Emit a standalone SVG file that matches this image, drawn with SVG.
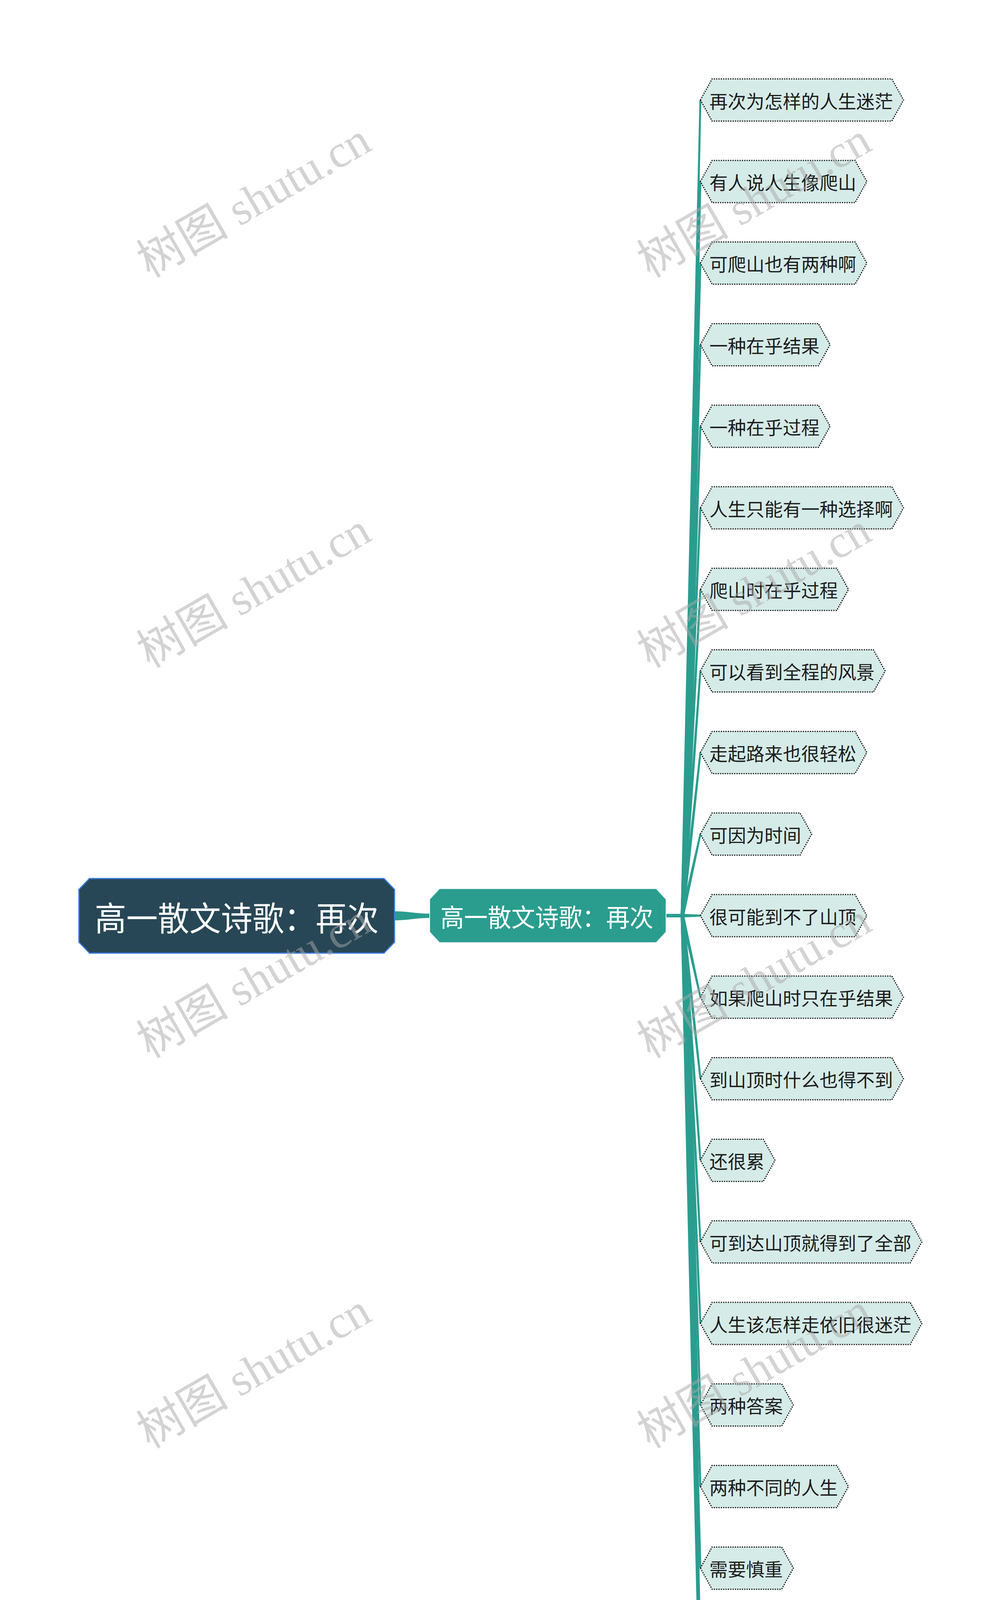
<svg xmlns="http://www.w3.org/2000/svg" width="2560" height="4689" viewBox="0 0 2560 4689">
<style>
.leaf polygon{fill:#d5ebe8;stroke:#111;stroke-width:3;stroke-dasharray:3 3}
.leaf text{font-family:"Noto Sans CJK SC","Noto Sans",sans-serif;font-size:47px;fill:#1c1c1c;dominant-baseline:central}
.big{font-family:"Noto Sans CJK SC","Noto Sans",sans-serif;fill:#ffffff;text-anchor:middle;dominant-baseline:central}
.conn polygon,.conn path{fill:#2a9d8f}
.wm text{font-family:"Liberation Serif","Noto Sans CJK SC",serif;font-size:118px;fill:#a8a8a8;opacity:0.5;text-anchor:middle;dominant-baseline:central}
</style>
<rect width="2560" height="4689" fill="#ffffff"/>
<g id="connectors" class="conn">
<path d="M1008,2333 C1050,2333 1060,2339 1101,2339 L1101,2350 C1060,2350 1050,2356 1008,2356 Z"/>
<polygon points="1742.5,2344 1751.5,2344 1795.5,256 1790.5,256"/>
<polygon points="1742.5,2344 1751.5,2344 1795.5,464.8 1790.5,464.8"/>
<polygon points="1742.5,2344 1751.5,2344 1795.5,673.6 1790.5,673.6"/>
<polygon points="1742.5,2344 1751.5,2344 1795.5,882.4 1790.5,882.4"/>
<polygon points="1742.5,2344 1751.5,2344 1795.5,1091.2 1790.5,1091.2"/>
<polygon points="1742.5,2344 1751.5,2344 1795.5,1300 1790.5,1300"/>
<polygon points="1742.5,2344 1751.5,2344 1795.5,1508.8 1790.5,1508.8"/>
<polygon points="1742.5,2344 1751.5,2344 1795.5,1717.6 1790.5,1717.6"/>
<polygon points="1742.5,2344 1751.5,2344 1795.5,1926.4 1790.5,1926.4"/>
<polygon points="1742.6,2343 1751.4,2345 1795.4,2135.7 1790.6,2134.7"/>
<polygon points="1703,2339.5 1747,2339.5 1795,2341.5 1795,2346.5 1747,2348.5 1703,2348.5"/>
<polygon points="1742.6,2345 1751.4,2343 1795.4,2552.3 1790.6,2553.3"/>
<polygon points="1742.5,2344 1751.5,2344 1795.5,2761.6 1790.5,2761.6"/>
<polygon points="1742.5,2344 1751.5,2344 1795.5,2970.4 1790.5,2970.4"/>
<polygon points="1742.5,2344 1751.5,2344 1795.5,3179.2 1790.5,3179.2"/>
<polygon points="1742.5,2344 1751.5,2344 1795.5,3388 1790.5,3388"/>
<polygon points="1742.5,2344 1751.5,2344 1795.5,3596.8 1790.5,3596.8"/>
<polygon points="1742.5,2344 1751.5,2344 1795.5,3805.6 1790.5,3805.6"/>
<polygon points="1742.5,2344 1751.5,2344 1795.5,4014.4 1790.5,4014.4"/>
<polygon points="1742.5,2344 1751.5,2344 1795.5,4223.2 1790.5,4223.2"/>
<polygon points="1742.5,2344 1751.5,2344 1795.5,4432 1790.5,4432"/>
</g>
<g id="root">
<polygon points="229,2249 983,2249 1010,2277 1010,2412 983,2440 229,2440 202,2412 202,2277" fill="#274756" stroke="#3a7fdc" stroke-width="3"/>
<text class="big" x="606" y="2345" font-size="86" textLength="727" lengthAdjust="spacingAndGlyphs">高一散文诗歌：再次</text>
</g>
<g id="main">
<polygon points="1125,2275 1680,2275 1705,2302 1705,2386 1680,2413 1125,2413 1100,2386 1100,2302" fill="#2a9d8f" stroke="#e6f2f1" stroke-width="2"/>
<text class="big" x="1400" y="2344" font-size="64" textLength="545" lengthAdjust="spacingAndGlyphs">高一散文诗歌：再次</text>
</g>
<g id="leaf1" class="leaf" transform="translate(0,256)"><polygon points="1793,0 1823,-54 2283,-54 2313,0 2283,54 1823,54"/><text x="1816" y="0">再次为怎样的人生迷茫</text></g>
<g id="leaf2" class="leaf" transform="translate(0,464.8)"><polygon points="1793,0 1823,-54 2189,-54 2219,0 2189,54 1823,54"/><text x="1816" y="0">有人说人生像爬山</text></g>
<g id="leaf3" class="leaf" transform="translate(0,673.6)"><polygon points="1793,0 1823,-54 2189,-54 2219,0 2189,54 1823,54"/><text x="1816" y="0">可爬山也有两种啊</text></g>
<g id="leaf4" class="leaf" transform="translate(0,882.4)"><polygon points="1793,0 1823,-54 2095,-54 2125,0 2095,54 1823,54"/><text x="1816" y="0">一种在乎结果</text></g>
<g id="leaf5" class="leaf" transform="translate(0,1091.2)"><polygon points="1793,0 1823,-54 2095,-54 2125,0 2095,54 1823,54"/><text x="1816" y="0">一种在乎过程</text></g>
<g id="leaf6" class="leaf" transform="translate(0,1300)"><polygon points="1793,0 1823,-54 2283,-54 2313,0 2283,54 1823,54"/><text x="1816" y="0">人生只能有一种选择啊</text></g>
<g id="leaf7" class="leaf" transform="translate(0,1508.8)"><polygon points="1793,0 1823,-54 2142,-54 2172,0 2142,54 1823,54"/><text x="1816" y="0">爬山时在乎过程</text></g>
<g id="leaf8" class="leaf" transform="translate(0,1717.6)"><polygon points="1793,0 1823,-54 2236,-54 2266,0 2236,54 1823,54"/><text x="1816" y="0">可以看到全程的风景</text></g>
<g id="leaf9" class="leaf" transform="translate(0,1926.4)"><polygon points="1793,0 1823,-54 2189,-54 2219,0 2189,54 1823,54"/><text x="1816" y="0">走起路来也很轻松</text></g>
<g id="leaf10" class="leaf" transform="translate(0,2135.2)"><polygon points="1793,0 1823,-54 2048,-54 2078,0 2048,54 1823,54"/><text x="1816" y="0">可因为时间</text></g>
<g id="leaf11" class="leaf" transform="translate(0,2344)"><polygon points="1793,0 1823,-54 2189,-54 2219,0 2189,54 1823,54"/><text x="1816" y="0">很可能到不了山顶</text></g>
<g id="leaf12" class="leaf" transform="translate(0,2552.8)"><polygon points="1793,0 1823,-54 2283,-54 2313,0 2283,54 1823,54"/><text x="1816" y="0">如果爬山时只在乎结果</text></g>
<g id="leaf13" class="leaf" transform="translate(0,2761.6)"><polygon points="1793,0 1823,-54 2283,-54 2313,0 2283,54 1823,54"/><text x="1816" y="0">到山顶时什么也得不到</text></g>
<g id="leaf14" class="leaf" transform="translate(0,2970.4)"><polygon points="1793,0 1823,-54 1954,-54 1984,0 1954,54 1823,54"/><text x="1816" y="0">还很累</text></g>
<g id="leaf15" class="leaf" transform="translate(0,3179.2)"><polygon points="1793,0 1823,-54 2330,-54 2360,0 2330,54 1823,54"/><text x="1816" y="0">可到达山顶就得到了全部</text></g>
<g id="leaf16" class="leaf" transform="translate(0,3388)"><polygon points="1793,0 1823,-54 2330,-54 2360,0 2330,54 1823,54"/><text x="1816" y="0">人生该怎样走依旧很迷茫</text></g>
<g id="leaf17" class="leaf" transform="translate(0,3596.8)"><polygon points="1793,0 1823,-54 2001,-54 2031,0 2001,54 1823,54"/><text x="1816" y="0">两种答案</text></g>
<g id="leaf18" class="leaf" transform="translate(0,3805.6)"><polygon points="1793,0 1823,-54 2142,-54 2172,0 2142,54 1823,54"/><text x="1816" y="0">两种不同的人生</text></g>
<g id="leaf19" class="leaf" transform="translate(0,4014.4)"><polygon points="1793,0 1823,-54 2001,-54 2031,0 2001,54 1823,54"/><text x="1816" y="0">需要慎重</text></g>
<g id="leaf20" class="leaf" transform="translate(0,4223.2)"><polygon points="1793,0 1823,-54 1907,-54 1937,0 1907,54 1823,54"/><text x="1816" y="0">想想</text></g>
<g id="leaf21" class="leaf" transform="translate(0,4432)"><polygon points="1793,0 1823,-54 2142,-54 2172,0 2142,54 1823,54"/><text x="1816" y="0">现在更是迷茫。</text></g>
<g id="watermarks" class="wm">
<text transform="translate(650,513) rotate(-30)">树图 shutu.cn</text>
<text transform="translate(1931,513) rotate(-30)">树图 shutu.cn</text>
<text transform="translate(650,1512) rotate(-30)">树图 shutu.cn</text>
<text transform="translate(1931,1512) rotate(-30)">树图 shutu.cn</text>
<text transform="translate(650,2511) rotate(-30)">树图 shutu.cn</text>
<text transform="translate(1931,2511) rotate(-30)">树图 shutu.cn</text>
<text transform="translate(650,3510) rotate(-30)">树图 shutu.cn</text>
<text transform="translate(1931,3510) rotate(-30)">树图 shutu.cn</text>
<text transform="translate(650,4509) rotate(-30)">树图 shutu.cn</text>
<text transform="translate(1931,4509) rotate(-30)">树图 shutu.cn</text>
</g>
</svg>
